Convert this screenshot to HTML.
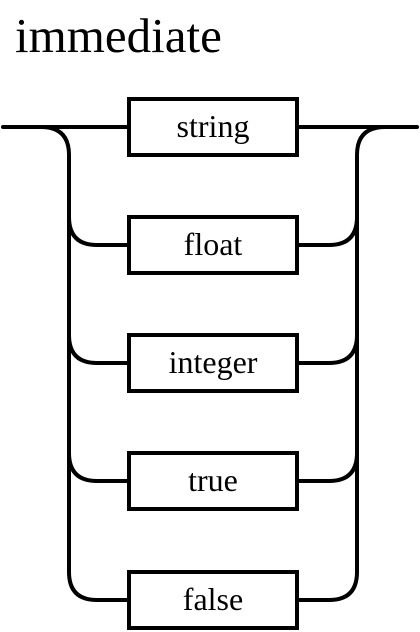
<!DOCTYPE html>
<html><head><style>html,body{margin:0;padding:0;background:#fff;}svg{display:block}</style></head>
<body>
<svg width="420" height="632" viewBox="0 0 420 632" xmlns="http://www.w3.org/2000/svg">
<text x="15" y="52" font-family="Liberation Serif, serif" font-size="49">immediate</text>
<g fill="none" stroke="#000" stroke-width="4" stroke-linecap="round">
<path d="M3 127 H129"/>
<path d="M297 127 H417"/>
<path d="M41 127 Q69 127 69 155 V572 Q69 600 97 600 H129"/>
<path d="M385 127 Q357 127 357 155 V572 Q357 600 329 600 H297"/>
<path d="M69 217 Q69 245 97 245 H129 M69 335 Q69 363 97 363 H129 M69 453 Q69 481 97 481 H129"/>
<path d="M357 217 Q357 245 329 245 H297 M357 335 Q357 363 329 363 H297 M357 453 Q357 481 329 481 H297"/>
<rect x="129" y="99" width="168" height="56"/>
<rect x="129" y="217" width="168" height="56"/>
<rect x="129" y="335" width="168" height="56"/>
<rect x="129" y="453" width="168" height="56"/>
<rect x="129" y="572" width="168" height="56"/>
</g>
<g font-family="Liberation Serif, serif" font-size="32" text-anchor="middle">
<text x="213" y="137">string</text>
<text x="213" y="255">float</text>
<text x="213" y="373">integer</text>
<text x="213" y="491">true</text>
<text x="213" y="610">false</text>
</g>
</svg>
</body></html>
